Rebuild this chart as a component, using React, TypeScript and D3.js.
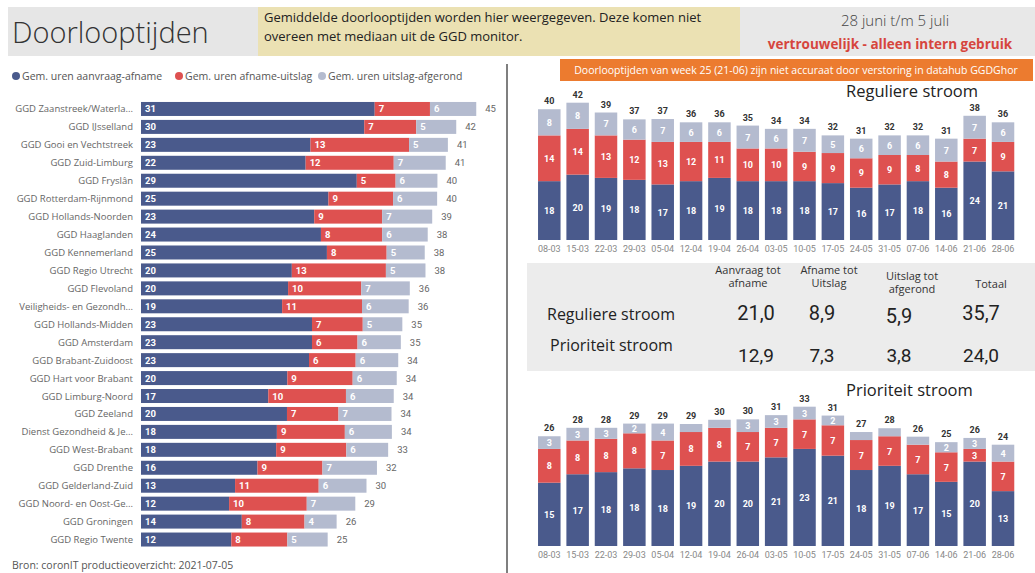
import React from 'react';
import * as d3 from 'd3';

// GGD regio's, gesorteerd op totaal
const regions = [
    'GGD Zaanstreek/Waterla...', 'GGD IJsselland', 'GGD Gooi en Vechtstreek', 'GGD Zuid-Limburg',
    'GGD Fryslân', 'GGD Rotterdam-Rijnmond', 'GGD Hollands-Noorden', 'GGD Haaglanden',
    'GGD Kennemerland', 'GGD Regio Utrecht', 'GGD Flevoland', 'Veiligheids- en Gezondh...',
    'GGD Hollands-Midden', 'GGD Amsterdam', 'GGD Brabant-Zuidoost', 'GGD Hart voor Brabant',
    'GGD Limburg-Noord', 'GGD Zeeland', 'Dienst Gezondheid & Je...', 'GGD West-Brabant',
    'GGD Drenthe', 'GGD Gelderland-Zuid', 'GGD Noord- en Oost-Ge...', 'GGD Groningen', 'GGD Regio Twente'
];
const regAanvraag = [31.3, 29.9, 22.7, 22.05, 28.9, 25.1, 23.2, 24.1, 24.9, 20.2, 19.7, 18.9, 22.9,
    22.9, 22.5, 19.6, 17.05, 19.55, 18.2, 18.1, 15.6, 12.6, 11.8, 13.5, 12.1];
const regAfname = [7.4, 6.96, 13.2, 11.8, 5.2, 8.66, 9.1, 8.2, 8.0, 12.6, 9.8, 10.7, 6.8,
    6.1, 6.25, 8.75, 10.4, 6.9, 9.1, 9.4, 8.7, 11.2, 10.4, 8.4, 7.5];
const regUitslag = [6.2, 5.36, 5.2, 6.96, 5.6, 5.9, 6.7, 6.1, 5.1, 5.3, 6.5, 6.25, 5.3,
    5.8, 5.7, 5.9, 6.4, 7.1, 6.3, 5.6, 7.3, 6.4, 6.5, 4.3, 5.4];

// weken
const weeks = ['08-03', '15-03', '22-03', '29-03', '05-04', '12-04', '19-04', '26-04', '03-05',
    '10-05', '17-05', '24-05', '31-05', '07-06', '14-06', '21-06', '28-06'];
const regulierAanvraag = [18, 20, 19, 18.4, 17, 18, 19, 18, 18, 18, 17.4, 16, 17, 18, 16, 24, 21];
const regulierAfname = [14, 14, 13, 12.3, 13, 12, 11, 10, 10, 9, 9.2, 9, 9, 8, 8, 7, 9];
const regulierUitslag = [8, 8, 7, 6.2, 7, 6, 6, 7, 6, 7, 5.4, 6, 6, 6, 7, 7, 6];
const prioAanvraag = [15, 17, 17.5, 18.4, 18, 19, 20, 20, 21, 23, 21.4, 18, 19, 17, 15.2, 20, 13];
const prioAfname = [8, 8, 7.9, 8.3, 7, 8, 8, 7, 7, 7, 7.2, 7.1, 7, 7, 7.0, 3.0, 7];
const prioUitslag = [3, 3, 2.6, 2.3, 4, 1.9, 1.9, 3, 3, 3, 2.3, 1.9, 1.9, 1.9, 2.4, 2.6, 4];

const seriesNames = ['Gem. uren aanvraag-afname', 'Gem. uren afname-uitslag', 'Gem. uren uitslag-afgerond'];
const colors = ['#4a5a8c', '#de5150', '#b4bbcf'];

const tableCols = [['Aanvraag tot', 'afname'], ['Afname tot', 'Uitslag'], ['Uitslag tot', 'afgerond'], ['Totaal']];
const tableRows = ['Reguliere stroom', 'Prioriteit stroom'];
const tableRegulier = ['21,0', '8,9', '5,9', '35,7'];
const tablePrio = ['12,9', '7,3', '3,8', '24,0'];

const font = '"Open Sans", "Noto Sans", sans-serif';
const numFont = 'Roboto, "Noto Sans", sans-serif';

function WeekChart({ a, b, c, top, bottom, max, title, titleY }) {
    const x = d3.scaleBand().domain(weeks).range([535.2, 1017.1]).paddingInner(0.2066).paddingOuter(0.1);
    const y = d3.scaleLinear().domain([0, max]).range([bottom, top]);
    const rows = weeks.map((w, i) => ({ w, a: a[i], b: b[i], c: c[i] }));
    const stack = d3.stack().keys(['a', 'b', 'c'])(rows);
    return (
        <g>
            <text x={846} y={titleY} fontSize={16.5} fill="#222" fontFamily={font}>{title}</text>
            {stack.map((layer, k) =>
                layer.map((d, i) => {
                    const v = d[1] - d[0];
                    const h = y(d[0]) - y(d[1]);
                    return (
                        <g key={k + '-' + i}>
                            <rect x={x(weeks[i])} y={y(d[1])} width={x.bandwidth()} height={h} fill={colors[k]} />
                            {v >= 2 &&
                                <text x={x(weeks[i]) + x.bandwidth() / 2} y={y(d[1]) + h / 2 + 3.5}
                                      textAnchor="middle" fontSize={9} fontWeight={700} fill="#fff"
                                      fontFamily={numFont}>{Math.round(v)}</text>}
                        </g>
                    );
                })
            )}
            {rows.map((r, i) => {
                const t = r.a + r.b + r.c;
                return (
                    <g key={'t' + i}>
                        <text x={x(r.w) + x.bandwidth() / 2} y={y(t) - 5} textAnchor="middle"
                              fontSize={9} fontWeight={700} fill="#333" fontFamily={numFont}>{Math.round(t)}</text>
                        <text x={x(r.w) + x.bandwidth() / 2} y={bottom + 12} textAnchor="middle"
                              fontSize={9} fill="#888" fontFamily={numFont}>{r.w}</text>
                    </g>
                );
            })}
        </g>
    );
}

export default function App() {
    const width = 1035, height = 573;

    const yReg = d3.scaleBand().domain(regions).range([100, 548.5]).paddingInner(0.22).paddingOuter(0.11);
    const xReg = d3.scaleLinear().domain([0, 45]).range([141, 477]);
    const regRows = regions.map((r, i) => ({ r, a: regAanvraag[i], b: regAfname[i], c: regUitslag[i] }));
    const regStack = d3.stack().keys(['a', 'b', 'c'])(regRows);

    const legendX = [16, 179, 322];
    const colX = [748, 829, 912, 991];
    const valX = [756, 822, 899, 981];

    return (
        <div style={{ position: 'absolute', left: 0, top: 0, width, height, background: '#fff' }}>
            <svg width={width} height={height} style={{ display: 'block' }}>
                {/* kop */}
                <rect x={8} y={7} width={250} height={49} fill="#e6e6e6" />
                <rect x={258} y={7} width={482} height={49} fill="#ebe1b3" />
                <rect x={740} y={7} width={295} height={49} fill="#e8e8e8" />
                <text x={12} y={43} fontSize={29} fontWeight={300} fill="#333" fontFamily={font}>Doorlooptijden</text>
                <text x={264} y={22} fontSize={13} fill="#222" fontFamily={font}>
                    Gemiddelde doorlooptijden worden hier weergegeven. Deze komen niet
                </text>
                <text x={264} y={41} fontSize={13} fill="#222" fontFamily={font}>
                    overeen met mediaan uit de GGD monitor.
                </text>
                <text x={895} y={26} textAnchor="middle" fontSize={15} fontWeight={300} fill="#444" fontFamily={font}>
                    28 juni t/m 5 juli
                </text>
                <text x={890} y={49} textAnchor="middle" fontSize={13.5} fontWeight={700} fill="#d6453d" fontFamily={font}>
                    vertrouwelijk - alleen intern gebruik
                </text>
                <rect x={560} y={59} width={473} height={22} fill="#ec7b2f" />
                <text x={796} y={74} textAnchor="middle" fontSize={10.5} fill="#fff" fontFamily={font}>
                    Doorlooptijden van week 25 (21-06) zijn niet accuraat door verstoring in datahub GGDGhor
                </text>

                {/* legenda */}
                {seriesNames.map((s, i) =>
                    <g key={s}>
                        <circle cx={legendX[i]} cy={76} r={4} fill={colors[i]} />
                        <text x={legendX[i] + 6} y={80} fontSize={10.5} fill="#555" fontFamily={font}>{s}</text>
                    </g>
                )}
                <line x1={507} x2={507} y1={64} y2={573} stroke="#555" strokeWidth={1.5} />

                {/* regio's */}
                {regions.map(r =>
                    <text key={r} x={133} y={yReg(r) + yReg.bandwidth() / 2 + 3.5} textAnchor="end"
                          fontSize={9.5} fill="#666" fontFamily={font}>{r}</text>
                )}
                {regStack.map((layer, k) =>
                    layer.map((d, i) =>
                        <g key={k + '-' + i}>
                            <rect x={xReg(d[0])} y={yReg(regions[i])} width={xReg(d[1]) - xReg(d[0])}
                                  height={yReg.bandwidth()} fill={colors[k]} />
                            <text x={xReg(d[0]) + 4} y={yReg(regions[i]) + yReg.bandwidth() / 2 + 3.5}
                                  fontSize={9.5} fontWeight={700} fill="#fff" fontFamily={numFont}>
                                {Math.round(d[1] - d[0])}
                            </text>
                        </g>
                    )
                )}
                {regRows.map(r => {
                    const t = r.a + r.b + r.c;
                    return (
                        <text key={'t' + r.r} x={xReg(t) + 9} y={yReg(r.r) + yReg.bandwidth() / 2 + 3.5}
                              fontSize={9.5} fill="#666" fontFamily={numFont}>{Math.round(t)}</text>
                    );
                })}
                <text x={12} y={569} fontSize={10.5} fill="#555" fontFamily={font}>
                    Bron: coronIT productieoverzicht: 2021-07-05
                </text>

                {/* weekgrafieken */}
                <WeekChart a={regulierAanvraag} b={regulierAfname} c={regulierUitslag}
                           top={102.7} bottom={240} max={42} title="Reguliere stroom" titleY={97} />
                <WeekChart a={prioAanvraag} b={prioAfname} c={prioUitslag}
                           top={406.7} bottom={546} max={33} title="Prioriteit stroom" titleY={396} />

                {/* tabel */}
                <rect x={527} y={263} width={508} height={108} fill="#ececec" />
                {tableCols.map((lines, i) =>
                    lines.map((l, j) =>
                        <text key={i + '-' + j} x={colX[i]} textAnchor="middle" fontSize={11} fill="#333" fontFamily={font}
                              y={(i === 2 ? 280 : i === 3 ? 288 : 274) + j * 13}>{l}</text>
                    )
                )}
                <text x={547} y={320} fontSize={16} fill="#222" fontFamily={font}>{tableRows[0]}</text>
                <text x={550} y={351} fontSize={16} fill="#222" fontFamily={font}>{tableRows[1]}</text>
                {tableRegulier.map((v, i) =>
                    <text key={'r' + i} x={valX[i]} y={i === 2 ? 323 : 320} textAnchor="middle" fontSize={20}
                          fill="#222" fontFamily={numFont}>{v}</text>
                )}
                {tablePrio.map((v, i) =>
                    <text key={'p' + i} x={valX[i]} y={362} textAnchor="middle" fontSize={19}
                          fill="#222" fontFamily={numFont}>{v}</text>
                )}
            </svg>
        </div>
    );
}
